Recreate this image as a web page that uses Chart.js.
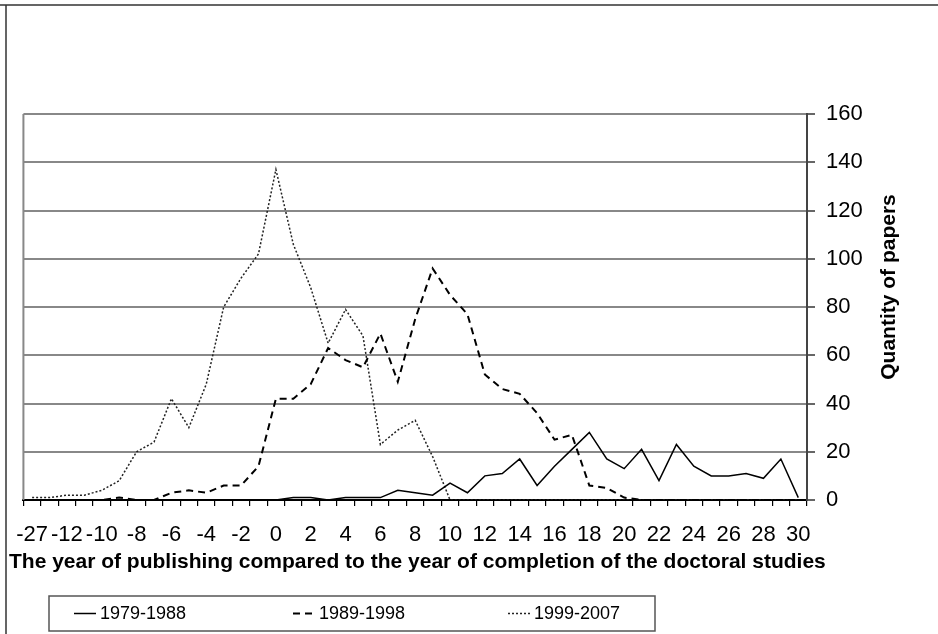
<!DOCTYPE html>
<html>
<head>
<meta charset="utf-8">
<script src="https://cdn.jsdelivr.net/npm/chart.js@4.4.1/dist/chart.umd.min.js"></script>
<style>
  html, body { margin: 0; padding: 0; background: #fff; }
  #chart { display: block; }
</style>
</head>
<body>
<canvas id="chart" width="938" height="634" style="width:938px;height:634px"></canvas>
<script>
// Years relative to completion of doctoral studies
const years = [-27, -13, -12, -11, -10, -9, -8, -7, -6, -5, -4, -3, -2, -1, 0,
    1, 2, 3, 4, 5, 6, 7, 8, 9, 10, 11, 12, 13, 14, 15, 16, 17, 18, 19, 20,
    21, 22, 23, 24, 25, 26, 27, 28, 29, 30];

// Quantity of papers per period
const papers1979 = [0, 0, 0, 0, 0, 0, 0, 0, 0, 0, 0, 0, 0, 0, 0,
    1, 1, 0, 1, 1, 1, 4, 3, 2, 7, 3, 10, 11, 17, 6, 14, 21, 28, 17, 13,
    21, 8, 23, 14, 10, 10, 11, 9, 17, 1];
const papers1989 = [0, 0, 0, 0, 0, 1, 0, 0, 3, 4, 3, 6, 6, 14, 42,
    42, 48, 63, 58, 55, 69, 49, 75, 96, 85, 77, 52, 46, 44, 36, 25, 27, 6, 5, 1,
    0, 0, 0, 0, 0, 0, 0, 0, 0, 0];
const papers1999 = [1, 1, 2, 2, 4, 8, 20, 24, 42, 30, 48, 80, 92, 102, 137,
    106, 88, 65, 79, 68, 23, 29, 33, 18, 0, 0, 0, 0, 0, 0, 0, 0, 0, 0, 0,
    0, 0, 0, 0, 0, 0, 0, 0, 0, 0];

const seriesNames = ['1979-1988', '1989-1998', '1999-2007'];
const yTicks = [0, 20, 40, 60, 80, 100, 120, 140, 160];

const xTitle = 'The year of publishing compared to the year of completion of the doctoral studies';
const yTitle = 'Quantity of papers';

const FONT = '"Liberation Sans", Arial, sans-serif';

// Outer frame, plot border, axis titles and the boxed legend
const decorations = {
    id: 'decorations',
    beforeDatasetsDraw(chart) {
        const ctx = chart.ctx;
        const area = chart.chartArea;
        ctx.save();
        ctx.strokeStyle = '#888';
        ctx.lineWidth = 2;
        ctx.beginPath();
        ctx.moveTo(area.left, area.top);
        ctx.lineTo(area.left, area.bottom);
        ctx.stroke();
        ctx.restore();
    },
    afterDraw(chart) {
        const ctx = chart.ctx;
        ctx.save();

        // page frame
        ctx.strokeStyle = '#333';
        ctx.lineWidth = 1.5;
        ctx.beginPath();
        ctx.moveTo(0, 5);
        ctx.lineTo(chart.width, 5);
        ctx.moveTo(6, 5);
        ctx.lineTo(6, chart.height);
        ctx.stroke();

        // x title
        ctx.fillStyle = '#000';
        ctx.font = 'bold 21px ' + FONT;
        ctx.textAlign = 'left';
        ctx.textBaseline = 'middle';
        ctx.fillText(xTitle, 9, 562);

        // y title
        ctx.save();
        ctx.translate(889, 287);
        ctx.rotate(-Math.PI / 2);
        ctx.textAlign = 'center';
        ctx.fillText(yTitle, 0, 0);
        ctx.restore();

        // legend
        ctx.strokeStyle = '#555';
        ctx.lineWidth = 1.5;
        ctx.strokeRect(49, 596, 606, 35);
        const sampleX = [74, 293, 508];
        ctx.font = '18px ' + FONT;
        chart.data.datasets.forEach((ds, i) => {
            const x = sampleX[i];
            ctx.strokeStyle = ds.borderColor;
            ctx.lineWidth = ds.borderWidth;
            ctx.setLineDash(ds.borderDash || []);
            ctx.beginPath();
            ctx.moveTo(x, 613.5);
            ctx.lineTo(x + 22, 613.5);
            ctx.stroke();
            ctx.setLineDash([]);
            ctx.fillStyle = '#000';
            ctx.fillText(ds.label, x + 26, 614);
        });
        ctx.restore();
    }
};

new Chart(document.getElementById('chart'), {
    type: 'line',
    data: {
        labels: years,
        datasets: [
            {
                label: seriesNames[0],
                data: papers1979,
                borderColor: '#000',
                borderWidth: 1.5,
                borderDash: []
            },
            {
                label: seriesNames[1],
                data: papers1989,
                borderColor: '#000',
                borderWidth: 2,
                borderDash: [7, 5]
            },
            {
                label: seriesNames[2],
                data: papers1999,
                borderColor: '#222',
                borderWidth: 1.5,
                borderDash: [2, 2]
            }
        ]
    },
    options: {
        responsive: false,
        animation: false,
        layout: {
            padding: { left: 20, top: 114, right: 0, bottom: 0 }
        },
        elements: {
            point: { radius: 0 },
            line: { tension: 0 }
        },
        plugins: {
            legend: { display: false },
            tooltip: { enabled: false }
        },
        scales: {
            x: {
                offset: true,
                grid: {
                    offset: true,
                    drawOnChartArea: false,
                    tickLength: 6,
                    color: '#000',
                    lineWidth: 1.2
                },
                border: { color: '#000', width: 2 },
                ticks: {
                    autoSkip: false,
                    maxRotation: 0,
                    minRotation: 0,
                    padding: 16,
                    color: '#000',
                    font: { family: FONT, size: 22 },
                    callback(value, index) {
                        return index % 2 === 0 ? this.getLabelForValue(value) : '';
                    }
                },
                afterFit(scale) {
                    scale.height = 134;
                }
            },
            y: {
                position: 'right',
                min: 0,
                max: 160,
                afterBuildTicks(scale) {
                    scale.ticks = yTicks.map(v => ({ value: v }));
                },
                grid: {
                    color: '#888',
                    lineWidth: 2,
                    tickLength: 8,
                    tickColor: '#333',
                    tickWidth: 1.5
                },
                border: { color: '#444', width: 2 },
                ticks: {
                    padding: 11,
                    color: '#000',
                    font: { family: FONT, size: 22 }
                },
                afterFit(scale) {
                    scale.width = 131;
                }
            }
        }
    },
    plugins: [decorations]
});
</script>
</body>
</html>
